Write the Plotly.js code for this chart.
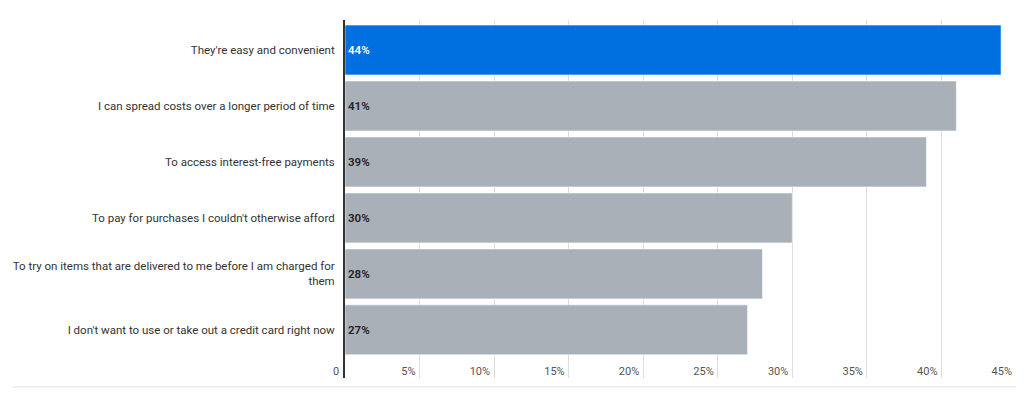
<!DOCTYPE html>
<html><head><meta charset="utf-8">
<script src="https://cdn.plot.ly/plotly-3.0.1.min.js"></script>
<style>html,body{margin:0;padding:0;background:#fff}#chart{width:1024px;height:399px}</style>
</head><body><div id="chart"></div>
<script>
const categories = [
  "They're easy and convenient",
  "I can spread costs over a longer period of time",
  "To access interest-free payments",
  "To pay for purchases I couldn't otherwise afford",
  "To try on items that are delivered to me before I am charged for<br>them",
  "I don't want to use or take out a credit card right now"
];
const values = [44, 41, 39, 30, 28, 27];
const tickVals = [5, 10, 15, 20, 25, 30, 35, 40, 45];
const tickText = ["5%", "10%", "15%", "20%", "25%", "30%", "35%", "40%", "45%"];
const zeroLabel = "0";

const barColors = values.map((v, i) => i === 0 ? '#0070E0' : '#A9B0B7');
const textColors = values.map((v, i) => i === 0 ? '#ffffff' : '#222222');

const trace = {
  type: 'bar', orientation: 'h',
  x: values, y: categories,
  marker: {color: barColors, line: {color: 'rgba(255,255,255,0.6)', width: 1}},
  text: values.map(v => v + '%'),
  textposition: 'inside', insidetextanchor: 'start',
  textfont: {family: 'Roboto, Arial, sans-serif', size: 11.5, color: textColors, weight: 600},
  hoverinfo: 'skip', cliponaxis: false
};

const layout = {
  width: 1024, height: 399,
  margin: {l: 345, r: 8, t: 20, b: 21},
  paper_bgcolor: '#fff', plot_bgcolor: '#fff',
  showlegend: false,
  bargap: 0.107,
  font: {family: 'Roboto, Arial, sans-serif', size: 11, color: '#333'},
  xaxis: {
    range: [0, 45], tickvals: tickVals, ticktext: tickText,
    showgrid: true, gridcolor: '#dddddd', gridwidth: 1, zeroline: false,
    ticklabelposition: 'inside left', ticks: '',
    ticklabelstandoff: -5, ticklabelshift: -4,
    tickfont: {size: 11, color: '#555'}, fixedrange: true
  },
  yaxis: {
    type: 'category', range: [5.86, -0.536],
    showline: true, linecolor: '#333', linewidth: 2,
    ticks: '', ticklabelstandoff: 6,
    tickfont: {size: 11.5, color: '#333'}, showgrid: false, zeroline: false
  },
  annotations: [
    {x: 0, y: 0, xref: 'x', yref: 'paper', text: zeroLabel, showarrow: false,
     xanchor: 'right', yanchor: 'middle', xshift: -4, yshift: 7,
     font: {size: 11, color: '#555'}}
  ],
  shapes: [
    {type: 'line', xref: 'paper', yref: 'paper', x0: -0.495, x1: 1, y0: -0.025, y1: -0.025,
     line: {color: '#e2e2e2', width: 1}}
  ]
};

Plotly.newPlot('chart', [trace], layout, {displayModeBar: false, staticPlot: true});
</script></body></html>
